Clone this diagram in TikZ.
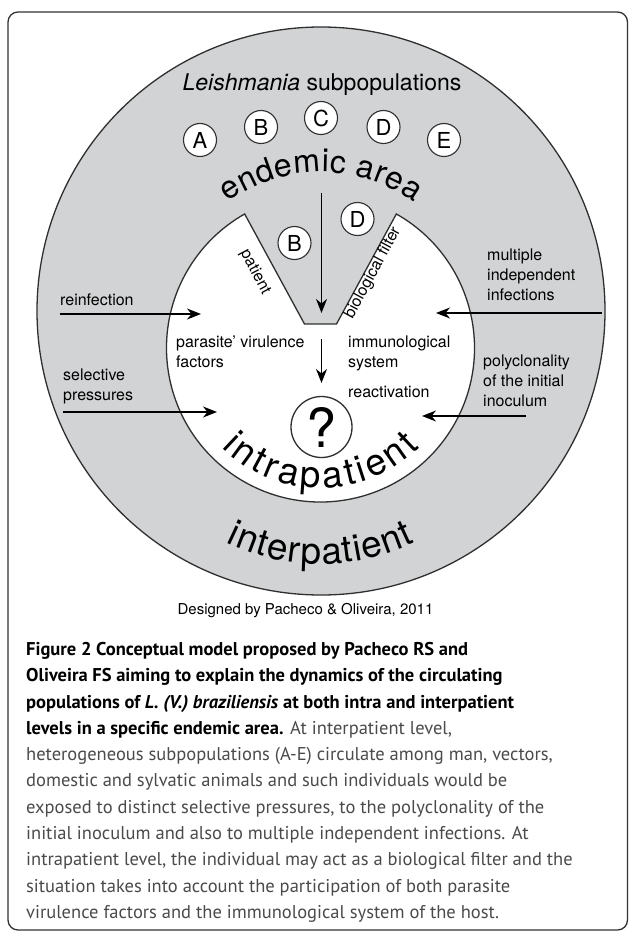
\documentclass[tikz,border=0pt]{standalone}
\usepackage{fontspec}
\setmainfont{TeX Gyre Heros}
\newfontfamily\captionfont{PT Sans}
\usetikzlibrary{arrows.meta,decorations.text}
\definecolor{ringgray}{HTML}{D1D3D4}
\definecolor{inkgray}{HTML}{2F2F2F}
\definecolor{capgray}{HTML}{4A4A4A}
\def\fsize#1{\fontsize{#1}{#1}\selectfont}
\def\endemicfont{\fontsize{32}{32}\selectfont}
\def\ringfont{\fontsize{37}{37}\selectfont}

\begin{document}
\begin{tikzpicture}[x=1pt,y=1pt,
		outline/.style={draw=inkgray, line width=1.3pt},
		arr/.style={line width=1.3pt, draw=black, -{Stealth[length=14pt,width=11pt,inset=4.5pt]}},
		subpop/.style={circle, draw=inkgray, line width=1.1pt, fill=white, minimum size=33pt, inner sep=0pt, font=\fsize{22}},
		label/.style={inner sep=0pt, anchor=west, align=left, font=\fontsize{16}{20}\selectfont},
		arctext/.style={decorate, decoration={text along path, text align=fit to path, text={#1}}},
	]
		%%%%% START %%%%%
		\useasboundingbox (0,0) rectangle (629,-933);
		
		\draw[line width=1.3pt, draw=black!80, rounded corners=10pt] (8,-12) rectangle (627.5,-930);
		
		\coordinate (oc) at (321,-311);
		\coordinate (ic) at (320.5,-348);
		\coordinate (ec) at (321,-330);
		\coordinate (notchL) at (304.5,-324);
		\coordinate (notchR) at (336.5,-324);
		
		\draw[outline, fill=ringgray] (oc) circle (284);
		\draw[outline, fill=white] ([shift={(60.5:154)}]ic) arc (60.5:-240.5:154) -- (notchL) -- (notchR) -- cycle;
		
		\node[font=\fsize{23}] (leish) at (322,-85) {\textit{Leishmania} subpopulations};
		\node[subpop] (popA) at (200,-140) {A};
		\node[subpop] (popB) at (261,-127) {B};
		\node[subpop] (popC) at (321,-118) {C};
		\node[subpop] (popD) at (383.5,-127) {D};
		\node[subpop] (popE) at (444,-140) {E};
		
		\path[arctext={|\endemicfont|endemic area}] ([shift={(126:158)}]ec) arc (126:54:158);
		
		\node[subpop] (inB) at (294.5,-243) {B};
		\node[subpop] (inD) at (357.5,-219) {D};
		
		\node[font=\fsize{16}, rotate=-62] (patient) at (255,-272) {patient};
		\node[font=\fsize{16}, rotate=61.6] (biofilter) at (373,-273) {biological filter};
		
		\coordinate (entry) at (321.5,-193);
		\coordinate (notchTip) at (321.5,-313);
		\draw[arr] (entry) -- (notchTip);
		\coordinate (filterOut) at (321.5,-339);
		\coordinate (filterIn) at (321.5,-383);
		\draw[arr] (filterOut) -- (filterIn);
		
		\node[label] (reinf) at (60,-300) {reinfection};
		\coordinate (reinfStart) at (60,-314);
		\coordinate (reinfEnd) at (201,-314);
		\draw[arr] (reinfStart) -- (reinfEnd);
		
		\node[label] (multi) at (487,-275) {multiple\\independent\\infections};
		\coordinate (multiStart) at (602,-313);
		\coordinate (multiEnd) at (436,-313);
		\draw[arr] (multiStart) -- (multiEnd);
		
		\node[label] (selpress) at (63,-386) {selective\\pressures};
		\coordinate (selStart) at (63,-412);
		\coordinate (selEnd) at (217,-412);
		\draw[arr] (selStart) -- (selEnd);
		
		\node[label] (polyclon) at (483,-381) {polyclonality\\of the initial\\inoculum};
		\coordinate (polyStart) at (526,-416);
		\coordinate (polyEnd) at (422,-416);
		\draw[arr] (polyStart) -- (polyEnd);
		
		\node[label] (virul) at (176,-352) {parasite' virulence\\factors};
		\node[label] (immuno) at (348,-353) {immunological\\system};
		\node[label] (react) at (348,-392) {reactivation};
		
		\node[circle, outline, fill=white, minimum size=61pt, inner sep=0pt, font=\fsize{54}] (unknown) at (321.5,-427) {?};
		
		\path[arctext={|\ringfont|intrapatient}] ([shift={(225:140)}]ic) arc (225:315:140);
		\path[arctext={|\ringfont|interpatient}] ([shift={(244:216)}]ic) arc (244:296:216);
		
		\node[font=\fsize{15}] (credit) at (305.5,-611) {Designed by Pacheco \& Oliveira, 2011};
		
		\node[anchor=north west, inner sep=0pt, align=left, text=capgray, font=\captionfont\fontsize{18.5}{26.3}\selectfont] (caption) at (26,-642) {%
			\textcolor{black}{\bfseries Figure 2 Conceptual model proposed by Pacheco RS and}\\
			\textcolor{black}{\bfseries Oliveira FS aiming to explain the dynamics of the circulating}\\
			\textcolor{black}{\bfseries populations of \textit{L. (V.) braziliensis} at both intra and interpatient}\\
			\textcolor{black}{\bfseries levels in a specific endemic area.} At interpatient level,\\
			heterogeneous subpopulations (A-E) circulate among man, vectors,\\
			domestic and sylvatic animals and such individuals would be\\
			exposed to distinct selective pressures, to the polyclonality of the\\
			initial inoculum and also to multiple independent infections. At\\
			intrapatient level, the individual may act as a biological filter and the\\
			situation takes into account the participation of both parasite\\
			virulence factors and the immunological system of the host.};
		%%%%% END %%%%%
	\end{tikzpicture}
\end{document}
